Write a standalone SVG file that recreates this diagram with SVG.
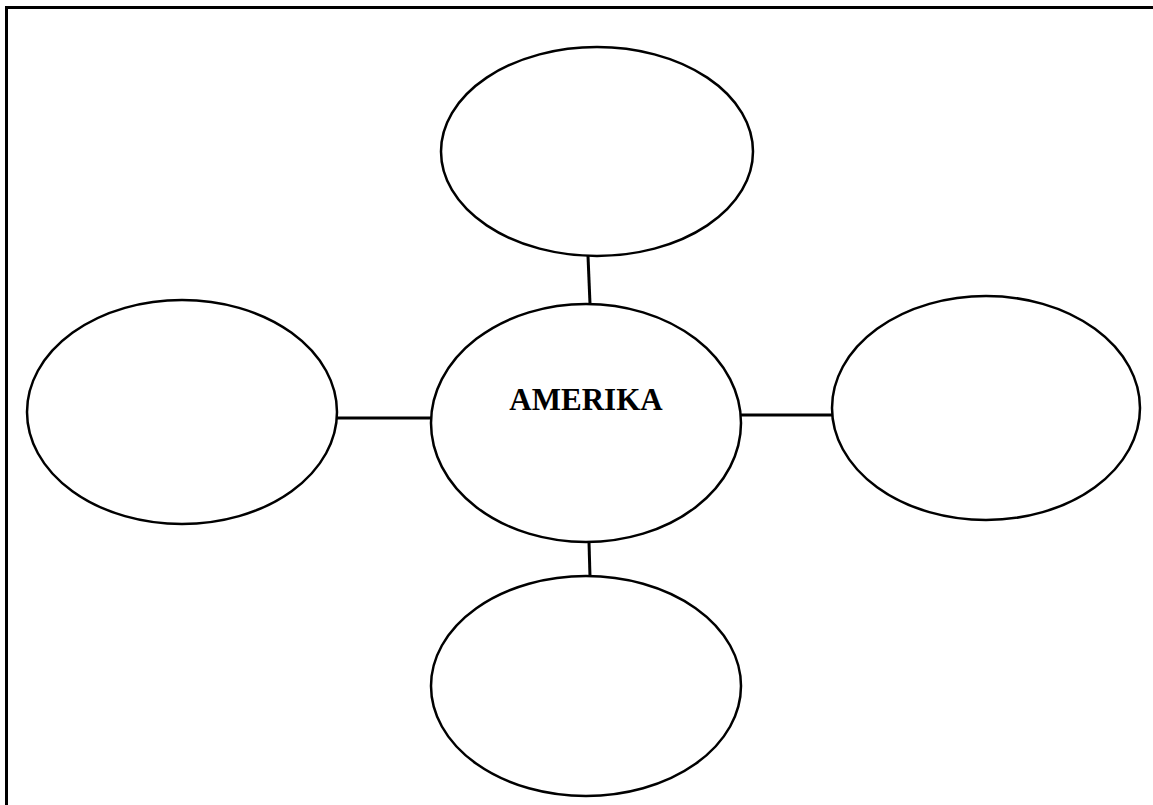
<svg xmlns="http://www.w3.org/2000/svg" width="1153" height="805" viewBox="0 0 1153 805">
<style>
.n{fill:#fff;stroke:#000;stroke-width:2.5}
.c{stroke:#000;stroke-width:3;fill:none}
.t{font-family:"Liberation Serif",serif;font-weight:bold;font-size:31px;fill:#000}
</style>
<rect width="1153" height="805" fill="#fff"/>
<g id="frame"><path d="M6.5 805V7.5H1153" fill="none" stroke="#000" stroke-width="3"/></g>
<g id="connectors">
<line class="c" x1="588" y1="256" x2="590" y2="304"/>
<line class="c" x1="589" y1="542" x2="590" y2="577"/>
<line class="c" x1="337" y1="418" x2="431" y2="418"/>
<line class="c" x1="741" y1="415" x2="832" y2="415"/>
</g>
<g id="top"><ellipse class="n" cx="597" cy="151.5" rx="156" ry="104.5"/></g>
<g id="center"><ellipse class="n" cx="586" cy="423" rx="155" ry="119"/><text class="t" x="586" y="410" text-anchor="middle">AMERIKA</text></g>
<g id="left"><ellipse class="n" cx="182" cy="412" rx="155" ry="112"/></g>
<g id="right"><ellipse class="n" cx="986" cy="408" rx="154" ry="112"/></g>
<g id="bottom"><ellipse class="n" cx="586" cy="686" rx="155" ry="110"/></g>
</svg>
